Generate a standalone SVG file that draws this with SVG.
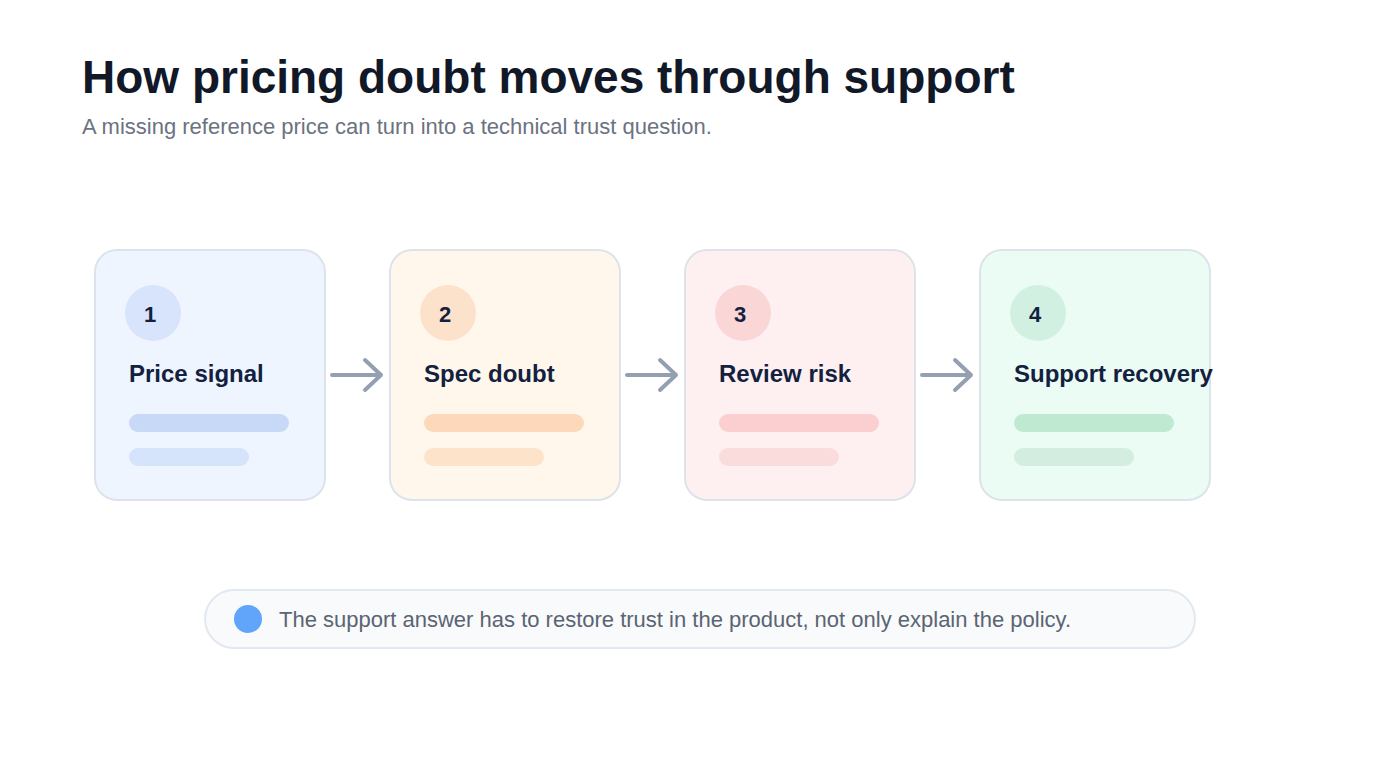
<svg xmlns="http://www.w3.org/2000/svg" width="1400" height="760" viewBox="0 0 1400 760">
<style>
.title{font-family:"Liberation Sans",Arial,sans-serif;font-weight:700;font-size:46px;fill:#111827}
.sub{font-family:"Liberation Sans",Arial,sans-serif;font-size:22px;fill:#6b7280}
.card{stroke:#dde3ea;stroke-width:2}
.num{font-family:"Liberation Sans",Arial,sans-serif;font-weight:700;font-size:22px;fill:#13213f;text-anchor:middle}
.lbl{font-family:"Liberation Sans",Arial,sans-serif;font-weight:700;font-size:24px;fill:#13213f}
.conn{stroke:#94a0b2;stroke-width:4;fill:none;stroke-linecap:round;stroke-linejoin:round}
.note{font-family:"Liberation Sans",Arial,sans-serif;font-size:22px;fill:#5b6472}
</style>
<rect width="1400" height="760" fill="#ffffff"/>
<text class="title" x="82" y="93">How pricing doubt moves through support</text>
<text class="sub" x="82" y="134">A missing reference price can turn into a technical trust question.</text>

<g id="node1">
<rect class="card" x="95" y="250" width="230" height="250" rx="22" fill="#eef5ff"/>
<circle cx="153" cy="313" r="28" fill="#d7e4fb"/>
<text class="num" x="150" y="322">1</text>
<text class="lbl" x="129" y="382">Price signal</text>
<rect x="129" y="414" width="160" height="18" rx="9" fill="#c8d8f7"/>
<rect x="129" y="448" width="120" height="18" rx="9" fill="#d5e3fb"/>
</g>
<g id="node2">
<rect class="card" x="390" y="250" width="230" height="250" rx="22" fill="#fff7ec"/>
<circle cx="448" cy="313" r="28" fill="#fde2cb"/>
<text class="num" x="445" y="322">2</text>
<text class="lbl" x="424" y="382">Spec doubt</text>
<rect x="424" y="414" width="160" height="18" rx="9" fill="#fed8ba"/>
<rect x="424" y="448" width="120" height="18" rx="9" fill="#fde3ca"/>
</g>
<g id="node3">
<rect class="card" x="685" y="250" width="230" height="250" rx="22" fill="#fef0f0"/>
<circle cx="743" cy="313" r="28" fill="#fbd6d6"/>
<text class="num" x="740" y="322">3</text>
<text class="lbl" x="719" y="382">Review risk</text>
<rect x="719" y="414" width="160" height="18" rx="9" fill="#fbcfd0"/>
<rect x="719" y="448" width="120" height="18" rx="9" fill="#fadcdc"/>
</g>
<g id="node4">
<rect class="card" x="980" y="250" width="230" height="250" rx="22" fill="#ebfcf4"/>
<circle cx="1038" cy="313" r="28" fill="#d2f0e1"/>
<text class="num" x="1035" y="322">4</text>
<text class="lbl" x="1014" y="382">Support recovery</text>
<rect x="1014" y="414" width="160" height="18" rx="9" fill="#c0e9d2"/>
<rect x="1014" y="448" width="120" height="18" rx="9" fill="#d4ede1"/>
</g>

<g id="connectors">
<path class="conn" d="M332 375 H380 M365 360 L381 375 L365 390"/>
<path class="conn" d="M627 375 H675 M660 360 L676 375 L660 390"/>
<path class="conn" d="M922 375 H970 M955 360 L971 375 L955 390"/>
</g>

<g id="callout">
<rect x="205" y="590" width="990" height="58" rx="29" fill="#f8fafc" stroke="#e2e8f0" stroke-width="2"/>
<circle cx="248" cy="619" r="14" fill="#60a5fa"/>
<text class="note" x="279" y="627">The support answer has to restore trust in the product, not only explain the policy.</text>
</g>
</svg>
